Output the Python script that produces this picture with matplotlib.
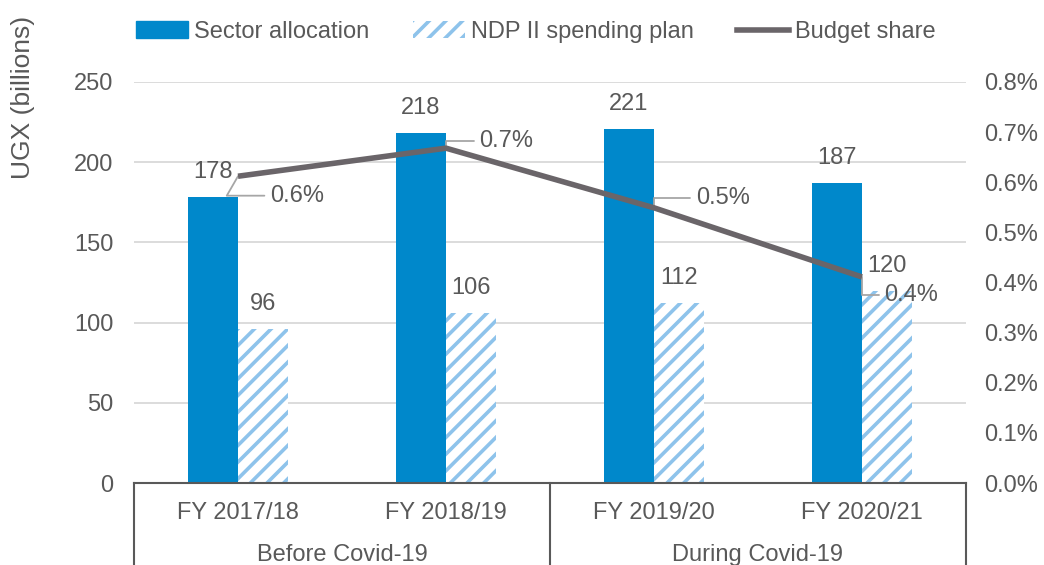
import matplotlib.pyplot as plt
from matplotlib.lines import Line2D
from matplotlib.patches import Patch
import matplotlib.transforms as mtransforms

plt.rcParams['font.family'] = ['Liberation Sans', 'DejaVu Sans']
plt.rcParams['hatch.linewidth'] = 2.6

years = ['FY 2017/18', 'FY 2018/19', 'FY 2019/20', 'FY 2020/21']
groups = ['Before Covid-19', 'During Covid-19']
sector_alloc = [178, 218, 221, 187]
ndp_plan = [96, 106, 112, 120]
budget_share = [0.612, 0.668, 0.549, 0.411]  # percent
share_labels = ['0.6%', '0.7%', '0.5%', '0.4%']

txt = '#595959'
blue = '#0088CB'
hatch_col = '#8EC3EB'
line_col = '#6A6569'
fs = 17

fig = plt.figure(figsize=(10.44, 5.65), dpi=100)
ax = fig.add_axes([134 / 1044, 1 - 483 / 565, 832 / 1044, 401 / 565])
ax2 = ax.twinx()

x = list(range(len(years)))
w = 0.24
b1 = ax.bar([i - w / 2 for i in x], sector_alloc, w, color=blue, zorder=2)
b2 = ax.bar([i + w / 2 for i in x], ndp_plan, w, color='white', edgecolor=hatch_col,
            hatch='//', linewidth=0, zorder=2)

for rect, v in list(zip(b1, sector_alloc)) + list(zip(b2, ndp_plan)):
    ax.annotate(str(v), (rect.get_x() + rect.get_width() / 2, v), xytext=(0, 18),
                textcoords='offset points', ha='center', va='center',
                fontsize=fs, color=txt, zorder=5)

ax.set_xlim(-0.5, 3.5)
ax.set_ylim(0, 250)
ax.set_yticks(range(0, 251, 50))
ax.grid(axis='y', color='#D9D9D9', linewidth=1.3, zorder=0)
ax.set_axisbelow(True)
ax.tick_params(axis='y', length=0, labelsize=fs, labelcolor=txt, pad=15)
ax.set_xticks([])
for s in ['top', 'left', 'right']:
    ax.spines[s].set_visible(False)
ax.spines['bottom'].set_color(txt)
ax.spines['bottom'].set_linewidth(1.5)
ax.set_ylabel('UGX (billions)', fontsize=19, color=txt)
ax.yaxis.set_label_coords(-0.119, 0.962)

ax2.plot(x, budget_share, color=line_col, linewidth=4, zorder=4,
         solid_capstyle='butt')
ax2.set_ylim(0, 0.8)
ax2.set_yticks([i / 10 for i in range(9)])
ax2.set_yticklabels([f'{i / 10:.1f}%' for i in range(9)])
ax2.tick_params(axis='y', length=0, labelsize=fs, labelcolor=txt, pad=13)
for s in ['top', 'left', 'right', 'bottom']:
    ax2.spines[s].set_visible(False)
ax2.set_zorder(ax.get_zorder() + 1)
ax2.patch.set_visible(False)

offsets = [(23, -14), (24, 5), (30, 7), (16, -13)]
angles = [60, 90, 90, 90]
for i, (lab, off, ang) in enumerate(zip(share_labels, offsets, angles)):
    ax2.annotate(lab, (x[i], budget_share[i]), xytext=off, textcoords='offset points',
                 ha='left', va='center', fontsize=fs, color=txt,
                 arrowprops=dict(arrowstyle='-', color='#A6A6A6', lw=1.3,
                                 shrinkA=2, shrinkB=0,
                                 connectionstyle=f'angle,angleA=0,angleB={ang},rad=0'))

# category axis box
tr = mtransforms.blended_transform_factory(ax.transData, ax.transAxes)
for xb in [-0.5, 1.5, 3.5]:
    ax.plot([xb, xb], [0, -0.25], color=txt, linewidth=1.5, transform=tr, clip_on=False)
for i, y in enumerate(years):
    ax.text(i, -0.075, y, transform=tr, ha='center', va='center', fontsize=fs, color=txt)
for g, c in zip(groups, [0.5, 2.5]):
    ax.text(c, -0.18, g, transform=tr, ha='center', va='center', fontsize=fs, color=txt)

handles = [Patch(facecolor=blue, edgecolor=blue),
           Patch(facecolor='white', edgecolor=hatch_col, hatch='//', linewidth=0),
           Line2D([], [], color=line_col, linewidth=4)]
fig.legend(handles, ['Sector allocation', 'NDP II spending plan', 'Budget share'],
           loc='center', bbox_to_anchor=(536 / 1044, 1 - 32 / 565), ncol=3,
           frameon=False, fontsize=fs, labelcolor=txt, handlelength=2.2,
           handleheight=0.7, handletextpad=0.25, columnspacing=1.85)

fig.savefig('out.png', dpi=100)
